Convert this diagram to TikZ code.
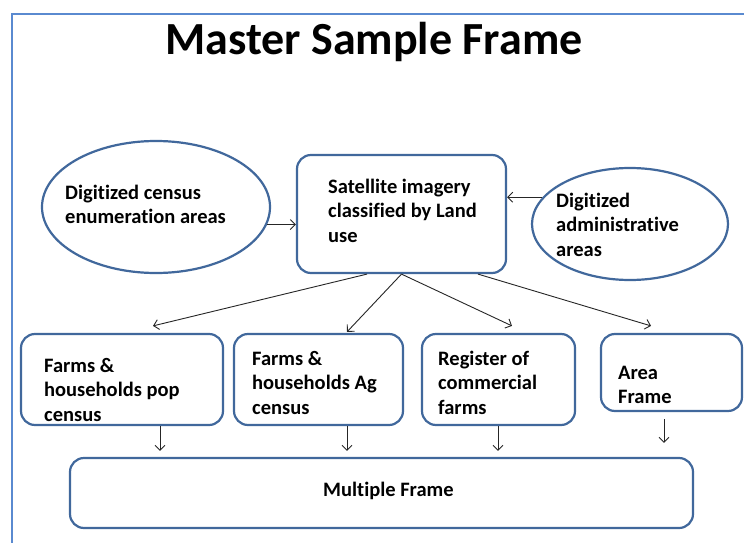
\documentclass[tikz,border=0pt]{standalone}
\usepackage{fontspec}
\setmainfont{Carlito}[Ligatures=NoCommon]
\usetikzlibrary{shapes.geometric,arrows.meta}
\definecolor{boxblue}{HTML}{41689C}
\definecolor{slideblue}{HTML}{5A8AD0}
\definecolor{linegray}{HTML}{262626}
\newcommand{\lines}[1]{\begin{tabular}[t]{@{}l@{}}#1\end{tabular}}
\tikzset{
  shapebox/.style={draw=boxblue,line width=2.2pt,rounded corners=14pt,inner sep=0pt,fill=white},
  oval/.style={draw=boxblue,line width=2.2pt,ellipse,inner sep=0pt,fill=white},
  lbl/.style={anchor=base west,inner sep=0pt,font=\fontsize{20.5}{24.5}\selectfont\bfseries},
  conn/.style={draw=linegray,line width=0.9pt,-{Straight Barb[length=5pt,width=10pt]}}
}
\begin{document}
\begin{tikzpicture}[x=1pt,y=-1pt]
\useasboundingbox[fill=white] (0,0) rectangle (744,543);
\draw[slideblue,line width=2pt] (744,14) -- (12,14) -- (12,543);
\node[inner sep=0pt,anchor=base,font=\fontsize{46}{52}\selectfont\bfseries] (title) at (374,55) {Master Sample Frame};
% shapes
\node[oval,minimum width=228pt,minimum height=132pt] (e1) at (156,207) {};
\node[shapebox,minimum width=209pt,minimum height=118pt] (sat) at (401.5,214) {};
\node[oval,minimum width=196pt,minimum height=112pt] (e2) at (630,224) {};
\node[shapebox,minimum width=202pt,minimum height=91pt] (f1) at (122,379.5) {};
\node[shapebox,minimum width=169pt,minimum height=91pt] (f2) at (318.5,379.5) {};
\node[shapebox,minimum width=153pt,minimum height=91pt] (f3) at (498.5,379.5) {};
\node[shapebox,minimum width=141pt,minimum height=77pt] (f4) at (671.5,372.5) {};
\node[shapebox,minimum width=623pt,minimum height=70pt] (mf) at (381.5,493) {};
% labels
\node[lbl] (t1) at (65,199) {\lines{Digitized census\\enumeration areas}};
\node[lbl] (t2) at (328,193) {\lines{Satellite imagery\\classified by Land\\use}};
\node[lbl] (t3) at (556,207) {\lines{Digitized\\administrative\\areas}};
\node[lbl] (t4) at (44,372) {\lines{Farms \&\\households pop\\census}};
\node[lbl] (t5) at (252,365) {\lines{Farms \&\\households Ag\\census}};
\node[lbl] (t6) at (438,365) {\lines{Register of\\commercial\\farms}};
\node[lbl] (t7) at (618,379) {\lines{Area\\Frame}};
\node[lbl] (t8) at (323,496) {Multiple Frame};
% connectors
\draw[conn] (e1.-9.5) -- (e1.-9.5 -| sat.west);
\draw[conn] (e2.163) -- (e2.163 -| sat.east);
\draw[conn] ([xshift=-34.5pt]sat.south) -- ([xshift=31pt,yshift=7pt]f1.north);
\draw[conn] (sat.south) -- ([xshift=28.5pt,yshift=1pt]f2.north);
\draw[conn] (sat.south) -- ([xshift=13.5pt,yshift=7pt]f3.north);
\draw[conn] ([xshift=76.5pt]sat.south) -- ([xshift=-20.5pt,yshift=7pt]f4.north);
\draw[conn] ([xshift=38pt]f1.south) -- ([xshift=-221.5pt,yshift=6pt]mf.north);
\draw[conn] ([xshift=28.5pt]f2.south) -- ([xshift=-34.5pt,yshift=6pt]mf.north);
\draw[conn] ([xshift=-0.5pt]f3.south) -- ([xshift=116.5pt,yshift=6pt]mf.north);
\draw[conn] ([xshift=-7.5pt,yshift=-7pt]f4.south) -- ([xshift=282.5pt,yshift=14pt]mf.north);
\end{tikzpicture}
\end{document}
